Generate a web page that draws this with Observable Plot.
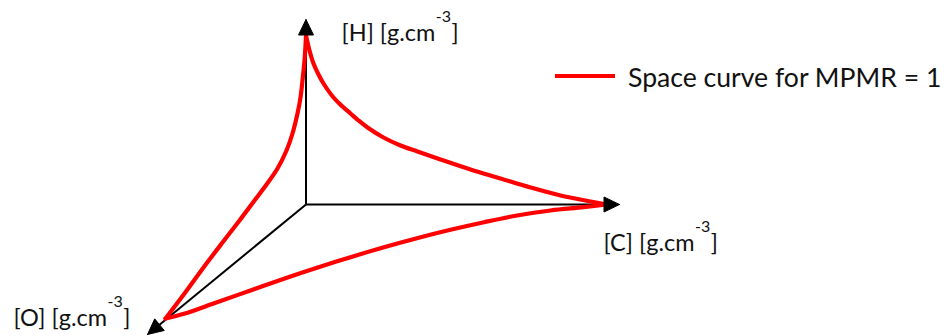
<!DOCTYPE html>
<html><head><meta charset="utf-8">
<script src="https://cdn.jsdelivr.net/npm/d3@7"></script>
<script src="https://cdn.jsdelivr.net/npm/@observablehq/plot@0.6"></script>
<style>
html,body{margin:0;padding:0;background:#fff;}
#chart{width:947px;height:336px;}
</style></head><body><div id="chart"></div>
<script>
// Axes of the 3-D sketch (chart units relative to the origin, y up)
const axisNames = ["[H]", "[C]", "[O]"];
const axisUnit = "[g.cm";
const axisExponent = "-3";
const axisTipX = [0, 313.5, -158.5];
const axisTipY = [185, 0, -130];

// Space curve for MPMR = 1, three plane branches
const hcX = [0, 3.5, 7.5, 12.5, 17.5, 27.5, 36.5, 44.5, 52.5, 61.5, 77.5, 94.5, 111.5, 134.5, 164.5, 194.5, 224.5, 254.5, 284.5, 300.5];
const hcY = [169, 154, 141, 130, 121, 107, 98, 91, 84, 77, 67, 59, 53, 45, 35, 26, 17, 9, 3, 0];
const coX = [300.5, 277.5, 244.5, 211, 178, 144.5, 111, 78, 44.5, 11, -22, -55.5, -89, -122, -140.5];
const coY = [0, -2.7, -6, -11, -17.7, -25.3, -33.7, -42.7, -52.7, -63.3, -74.3, -86, -97.7, -109.3, -114];
const ohX = [-140.5, -121.5, -102.5, -83.5, -66.5, -51.5, -39.5, -28.5, -19.5, -13.5, -8.5, -5.5, -3.5, -1.5, -0.5, 0];
const ohY = [-114, -89, -63, -38, -16, 4, 20, 36, 54, 71, 91, 107, 124, 144, 159, 169];
const seriesLabel = "Space curve for MPMR = 1";

const FONT = "Lato, 'Open Sans', sans-serif";
const LABEL_SIZE = 23.5, SUP_SIZE = 16, SUP_RAISE = 19;
const HEAD_LEN = 15.5, HEAD_HALF = 7.5;

const curves = [
  ...hcX.map((x, i) => ({x, y: hcY[i], s: "HC"})),
  ...coX.map((x, i) => ({x, y: coY[i], s: "CO"})),
  ...ohX.map((x, i) => ({x, y: ohY[i], s: "OH"}))
];

const axes = axisNames.map((name, i) => {
  const tx = axisTipX[i], ty = axisTipY[i];
  const len = Math.hypot(tx, ty);
  const ux = tx / len, uy = ty / len;
  return {name, i, tx, ty, ux, uy, ox: 0, oy: 0,
    bx: tx - HEAD_LEN * ux, by: ty - HEAD_LEN * uy};
});
const heads = axes.flatMap(a => {
  const nx = -a.uy, ny = a.ux;
  return [
    {x: a.tx, y: a.ty, a: a.i},
    {x: a.bx + HEAD_HALF * nx, y: a.by + HEAD_HALF * ny, a: a.i},
    {x: a.bx - HEAD_HALF * nx, y: a.by - HEAD_HALF * ny, a: a.i},
    {x: a.tx, y: a.ty, a: a.i}
  ];
});

const labelOffsets = [[35.5, 21.7], [-16, 46.7], [-134, -9]];
const labelMarks = axes.map((a, i) => Plot.text([a], {
  x: "tx", y: "ty", text: d => d.name + " " + axisUnit,
  dx: labelOffsets[i][0], dy: labelOffsets[i][1],
  textAnchor: "start", lineAnchor: "bottom",
  fontFamily: FONT, fontSize: LABEL_SIZE, fill: "#111"
}));

const plot = Plot.plot({
  width: 947, height: 336,
  marginLeft: 0, marginRight: 0, marginTop: 0, marginBottom: 0,
  x: {domain: [-305.5, 641.5], axis: null},
  y: {domain: [-132, 204], axis: null},
  style: {fontFamily: FONT, background: "white"},
  marks: [
    Plot.link(axes, {x1: "ox", y1: "oy", x2: "bx", y2: "by", stroke: "black", strokeWidth: 2}),
    Plot.line(curves, {x: "x", y: "y", z: "s", stroke: "#ff0000", strokeWidth: 4.2,
      curve: "catmull-rom", strokeLinejoin: "round", strokeLinecap: "round"}),
    Plot.line(heads, {x: "x", y: "y", z: "a", fill: "black", stroke: "black", strokeWidth: 1}),
    ...labelMarks
  ]
});
document.getElementById("chart").appendChild(plot);

// superscript exponents on the unit labels
d3.select(plot).selectAll("text").each(function() {
  const t = this.textContent;
  if (t.endsWith(axisUnit)) {
    const sel = d3.select(this);
    sel.append("tspan").attr("dx", 0.5).attr("dy", -SUP_RAISE).attr("font-size", SUP_SIZE).text(axisExponent);
    sel.append("tspan").attr("dx", 0.5).attr("dy", SUP_RAISE).attr("font-size", LABEL_SIZE).text("]");
  }
});

// legend
const lg = d3.select(plot).append("g");
lg.append("line").attr("x1", 555).attr("x2", 615).attr("y1", 76).attr("y2", 76)
  .attr("stroke", "#ff0000").attr("stroke-width", 4.2);
lg.append("text").attr("x", 628).attr("y", 86.7).attr("font-family", FONT)
  .attr("text-anchor", "start")
  .attr("font-size", 26.6).attr("fill", "#111").text(seriesLabel);
</script></body></html>
